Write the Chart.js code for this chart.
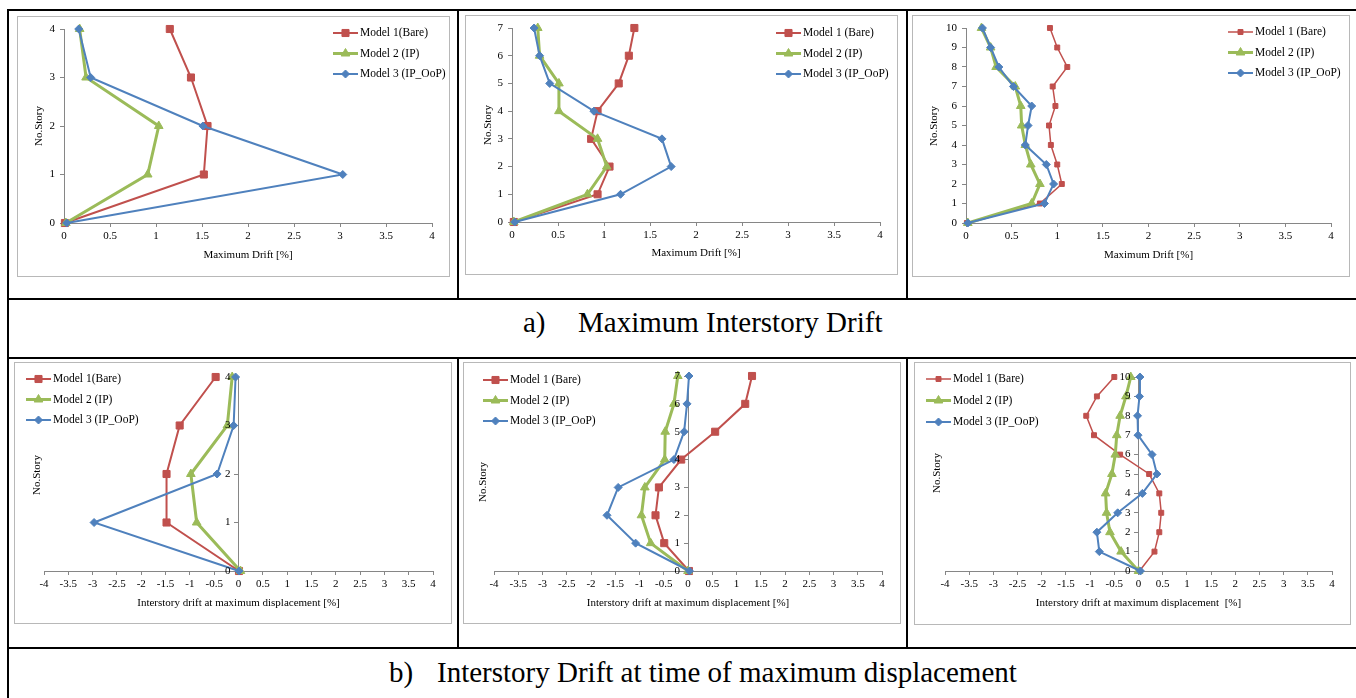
<!DOCTYPE html>
<html>
<head>
<meta charset="utf-8">
<script src="https://cdn.jsdelivr.net/npm/chart.js@4.4.1/dist/chart.umd.min.js"></script>
<style>
  body { margin: 0; background: #fff; width: 1356px; height: 698px; overflow: hidden; position: relative;
         font-family: "Liberation Serif", "Times New Roman", serif; }
  .hl { position: absolute; background: #000; height: 2px; }
  .vl { position: absolute; background: #000; width: 2px; }
  .box { position: absolute; border: 1px solid #b8b8b8; }
  .box canvas { display: block; }
  .cap { position: absolute; font-size: 29px; line-height: 30px; white-space: nowrap; color: #000; }
</style>
</head>
<body>

<div class="hl" style="left:7px;top:9px;width:1349px"></div>
<div class="hl" style="left:7px;top:298px;width:1349px"></div>
<div class="hl" style="left:7px;top:357px;width:1349px"></div>
<div class="hl" style="left:7px;top:647px;width:1349px"></div>
<div class="vl" style="left:7px;top:9px;height:689px"></div>
<div class="vl" style="left:457px;top:9px;height:291px"></div>
<div class="vl" style="left:906px;top:9px;height:291px"></div>
<div class="vl" style="left:457px;top:357px;height:292px"></div>
<div class="vl" style="left:906px;top:357px;height:292px"></div>

<div class="box" style="left:17px;top:16px"><canvas id="c1"></canvas></div>
<div class="box" style="left:465px;top:15px"><canvas id="c2"></canvas></div>
<div class="box" style="left:912px;top:15px"><canvas id="c3"></canvas></div>
<div class="box" style="left:14px;top:362px"><canvas id="c4"></canvas></div>
<div class="box" style="left:463px;top:362px"><canvas id="c5"></canvas></div>
<div class="box" style="left:914px;top:362px"><canvas id="c6"></canvas></div>

<div class="cap" style="left:523px;top:307px">a)</div>
<div class="cap" style="left:578px;top:307px">Maximum Interstory Drift</div>
<div class="cap" style="left:389px;top:657px">b)</div>
<div class="cap" style="left:437px;top:657px">Interstory Drift at time of maximum displacement</div>

<script>
// stories (y values)
const stories4 = [0, 1, 2, 3, 4];
const stories7 = [0, 1, 2, 3, 4, 5, 6, 7];
const stories10 = [0, 1, 2, 3, 4, 5, 6, 7, 8, 9, 10];

// tick labels
const driftTicks = [0, 0.5, 1, 1.5, 2, 2.5, 3, 3.5, 4];
const signedTicks = [-4, -3.5, -3, -2.5, -2, -1.5, -1, -0.5, 0, 0.5, 1, 1.5, 2, 2.5, 3, 3.5, 4];

const names4 = ['Model 1(Bare)', 'Model 2 (IP)', 'Model 3 (IP_OoP)'];
const names = ['Model 1 (Bare)', 'Model 2 (IP)', 'Model 3 (IP_OoP)'];

// a) maximum interstory drift [%]
const bare4Max = [0.01, 1.52, 1.56, 1.38, 1.15];
const ip4Max   = [0.02, 0.91, 1.03, 0.24, 0.17];
const oop4Max  = [0.03, 3.03, 1.51, 0.29, 0.16];

const bare7Max = [0.02, 0.93, 1.06, 0.86, 0.93, 1.16, 1.27, 1.33];
const ip7Max   = [0.02, 0.82, 1.03, 0.93, 0.51, 0.51, 0.30, 0.28];
const oop7Max  = [0.03, 1.18, 1.73, 1.63, 0.89, 0.41, 0.30, 0.24];

const bare10Max = [0.01, 0.81, 1.05, 1.00, 0.93, 0.91, 0.98, 0.95, 1.11, 1.00, 0.92];
const ip10Max   = [0.02, 0.72, 0.81, 0.71, 0.65, 0.61, 0.60, 0.54, 0.33, 0.27, 0.17];
const oop10Max  = [0.02, 0.86, 0.96, 0.88, 0.65, 0.68, 0.72, 0.52, 0.36, 0.27, 0.18];

// b) interstory drift at time of maximum displacement [%]
const bare4Disp = [0.01, -1.48, -1.48, -1.21, -0.47];
const ip4Disp   = [0.04, -0.86, -0.98, -0.23, -0.13];
const oop4Disp  = [0.01, -2.97, -0.44, -0.10, -0.06];

const bare7Disp = [0.02, -0.49, -0.67, -0.60, -0.14, 0.56, 1.18, 1.32];
const ip7Disp   = [0.00, -0.77, -0.96, -0.89, -0.48, -0.47, -0.29, -0.21];
const oop7Disp  = [0.03, -1.08, -1.67, -1.44, -0.29, -0.08, -0.02, 0.02];

const bare10Disp = [0.02, 0.33, 0.43, 0.47, 0.43, 0.22, -0.38, -0.92, -1.08, -0.86, -0.50];
const ip10Disp   = [0.00, -0.36, -0.59, -0.66, -0.68, -0.55, -0.48, -0.45, -0.38, -0.26, -0.16];
const oop10Disp  = [0.04, -0.81, -0.86, -0.43, 0.08, 0.38, 0.28, -0.01, -0.02, 0.02, 0.03];

const RED = '#C0504D', GREEN = '#9BBB59', BLUE = '#4F81BD', AXIS = '#868686';
const FONT = '"Liberation Serif", "Times New Roman", serif';

function marker(ctx, style, x, y, r) {
  ctx.beginPath();
  if (style === 'rect') {
    const s = r * Math.SQRT1_2;
    ctx.rect(x - s, y - s, 2 * s, 2 * s);
  } else if (style === 'triangle') {
    let a = 0;
    ctx.moveTo(x + Math.sin(a) * r, y - Math.cos(a) * r);
    a += Math.PI * 2 / 3;
    ctx.lineTo(x + Math.sin(a) * r, y - Math.cos(a) * r);
    a += Math.PI * 2 / 3;
    ctx.lineTo(x + Math.sin(a) * r, y - Math.cos(a) * r);
    ctx.closePath();
  } else {
    ctx.moveTo(x - r, y); ctx.lineTo(x, y - r); ctx.lineTo(x + r, y); ctx.lineTo(x, y + r);
    ctx.closePath();
  }
  ctx.fill();
  ctx.stroke();
}

// legend with line + marker, axis titles, and story labels beside a y axis that crosses at x = 0
const chartText = {
  id: 'chartText',
  afterDraw(chart, args, o) {
    const ctx = chart.ctx, area = chart.chartArea;
    ctx.save();
    ctx.font = '11.5px ' + FONT;
    ctx.textBaseline = 'middle';
    ctx.textAlign = 'left';
    chart.data.datasets.forEach((ds, i) => {
      const y = o.ly + i * o.gap;
      ctx.strokeStyle = ds.borderColor;
      ctx.fillStyle = ds.backgroundColor;
      ctx.lineWidth = ds.borderWidth;
      ctx.beginPath();
      ctx.moveTo(o.lx, y);
      ctx.lineTo(o.lx + 25, y);
      ctx.stroke();
      ctx.lineWidth = 1;
      marker(ctx, ds.pointStyle, o.lx + 12.5, y, ds.pointRadius);
      ctx.fillStyle = '#000';
      ctx.fillText(ds.label, o.lx + 27, y);
    });
    ctx.font = '11px ' + FONT;
    if (o.signed) {
      const xs = chart.scales.x, ys = chart.scales.y;
      const x0 = xs.getPixelForValue(0) - 8;
      ctx.textAlign = 'right';
      ys.ticks.forEach(t => ctx.fillText(String(t.value), x0, ys.getPixelForValue(t.value)));
    }
    ctx.textAlign = 'center';
    ctx.fillText(o.xTitle, (area.left + area.right) / 2, o.xty);
    ctx.translate(o.ytx, o.yty);
    ctx.rotate(-Math.PI / 2);
    ctx.fillText('No.Story', 0, 0);
    ctx.restore();
  }
};

const panels = [
  {id: 'c1', w: 431, h: 259, stories: stories4, series: [bare4Max, ip4Max, oop4Max], labels: names4,
   xt: driftTicks, signed: false, pl: 46, pr: 17, pt: 12, xh: 53, rr: 5, br: 4,
   lx: 315, ly: 16, gap: 20.5, xTitle: 'Maximum Drift [%]', xty: 238, ytx: 21, yty: 109},
  {id: 'c2', w: 431, h: 258, stories: stories7, series: [bare7Max, ip7Max, oop7Max], labels: names,
   xt: driftTicks, signed: false, pl: 46, pr: 17, pt: 12, xh: 52, rr: 5, br: 4,
   lx: 310, ly: 17, gap: 20.5, xTitle: 'Maximum Drift [%]', xty: 237, ytx: 22, yty: 109},
  {id: 'c3', w: 436, h: 260, stories: stories10, series: [bare10Max, ip10Max, oop10Max], labels: names,
   xt: driftTicks, signed: false, pl: 53, pr: 18, pt: 12, xh: 53, rr: 3.5, br: 4,
   lx: 315, ly: 16, gap: 20.5, xTitle: 'Maximum Drift [%]', xty: 239, ytx: 21, yty: 110},
  {id: 'c4', w: 436, h: 260, stories: stories4, series: [bare4Disp, ip4Disp, oop4Disp], labels: names4,
   xt: signedTicks, signed: true, pl: 29, pr: 18, pt: 14, xh: 52, rr: 5, br: 4,
   lx: 11, ly: 16, gap: 20.5, xTitle: 'Interstory drift at maximum displacement [%]', xty: 240, ytx: 22, yty: 112},
  {id: 'c5', w: 436, h: 260, stories: stories7, series: [bare7Disp, ip7Disp, oop7Disp], labels: names,
   xt: signedTicks, signed: true, pl: 30, pr: 18, pt: 13, xh: 52, rr: 5, br: 4,
   lx: 19, ly: 17, gap: 20.5, xTitle: 'Interstory drift at maximum displacement [%]', xty: 240, ytx: 19, yty: 119},
  {id: 'c6', w: 435, h: 261, stories: stories10, series: [bare10Disp, ip10Disp, oop10Disp], labels: names,
   xt: signedTicks, signed: true, pl: 30, pr: 18, pt: 14, xh: 53, rr: 3.5, br: 4,
   lx: 11, ly: 16, gap: 21.5, xTitle: 'Interstory drift at maximum displacement  [%]', xty: 240, ytx: 22, yty: 110}
];

panels.forEach(p => {
  const canvas = document.getElementById(p.id);
  canvas.width = p.w;
  canvas.height = p.h;
  const look = [
    {color: RED, width: p.rr < 5 ? 1.5 : 2, style: 'rect', radius: p.rr, order: 3},
    {color: GREEN, width: 3, style: 'triangle', radius: 5, order: 2},
    {color: BLUE, width: 2, style: 'rectRot', radius: p.br, order: 1}
  ];
  const datasets = p.series.map((vals, i) => ({
    label: p.labels[i],
    data: p.stories.map((s, j) => ({x: vals[j], y: s})),
    borderColor: look[i].color,
    backgroundColor: look[i].color,
    borderWidth: look[i].width,
    pointStyle: look[i].style,
    pointRadius: look[i].radius,
    pointBorderWidth: 1,
    tension: 0,
    clip: false,
    order: look[i].order
  }));
  const top = p.stories[p.stories.length - 1];
  const tickFont = {family: FONT, size: 11};
  new Chart(canvas, {
    type: 'line',
    data: {datasets},
    plugins: [chartText],
    options: {
      responsive: false,
      animation: false,
      events: [],
      layout: {padding: {left: p.signed ? p.pl : 0, right: p.pr, top: p.pt, bottom: 0}},
      plugins: {
        legend: {display: false},
        tooltip: {enabled: false},
        chartText: {lx: p.lx, ly: p.ly, gap: p.gap, xTitle: p.xTitle, xty: p.xty, ytx: p.ytx, yty: p.yty, signed: p.signed}
      },
      scales: {
        x: {
          type: 'linear',
          min: p.xt[0],
          max: p.xt[p.xt.length - 1],
          afterBuildTicks: s => { s.ticks = p.xt.map(v => ({value: v})); },
          afterFit: s => { s.height = p.xh; },
          grid: {display: true, drawOnChartArea: false, tickLength: 4, color: AXIS},
          border: {display: true, color: AXIS, width: 1},
          ticks: {font: tickFont, color: '#000', padding: 3, autoSkip: false, maxRotation: 0,
                  callback: v => String(v)}
        },
        y: {
          type: 'linear',
          position: p.signed ? {x: 0} : 'left',
          min: 0,
          max: top,
          afterBuildTicks: s => { s.ticks = p.stories.map(v => ({value: v})); },
          afterFit: s => { if (!p.signed) s.width = p.pl; },
          grid: {display: true, drawOnChartArea: false, tickLength: 4, color: AXIS},
          border: {display: true, color: AXIS, width: 1},
          ticks: {display: !p.signed, font: tickFont, color: '#000', padding: 5, autoSkip: false,
                  callback: v => String(v)}
        }
      }
    }
  });
});
</script>
</body>
</html>
